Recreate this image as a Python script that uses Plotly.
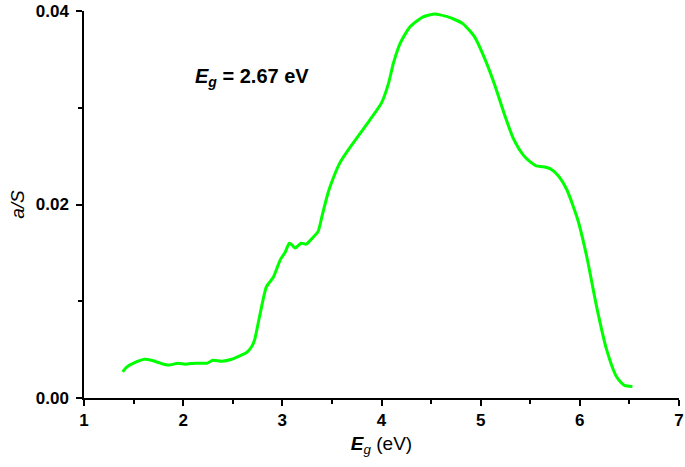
import plotly.graph_objects as go

energy_ev = [1.39, 1.43, 1.50, 1.61, 1.68, 1.77, 1.85, 1.95, 2.02, 2.12, 2.24, 2.30, 2.39, 2.49,
             2.56, 2.64, 2.69, 2.72, 2.77, 2.84, 2.91, 2.98, 3.03, 3.07, 3.10, 3.13, 3.19, 3.24,
             3.30, 3.36, 3.40, 3.45, 3.48, 3.58, 3.71, 3.88, 4.00, 4.07, 4.12, 4.19, 4.29, 4.42,
             4.54, 4.59, 4.67, 4.72, 4.82, 4.94, 5.04, 5.14, 5.24, 5.33, 5.43, 5.50, 5.56, 5.63,
             5.70, 5.78, 5.87, 5.98, 6.07, 6.17, 6.27, 6.37, 6.45, 6.53]
absorbance = [0.0027, 0.0032, 0.0036, 0.0040, 0.0039, 0.0036, 0.0034, 0.0036, 0.0035, 0.0036,
              0.0036, 0.0039, 0.0038, 0.0040, 0.0043, 0.0047, 0.0053, 0.0060, 0.0084, 0.0115,
              0.0125, 0.0143, 0.0151, 0.0160, 0.0158, 0.0155, 0.0160, 0.0159, 0.0165, 0.0172,
              0.0188, 0.0208, 0.0218, 0.0243, 0.0263, 0.0287, 0.0305, 0.0325, 0.0346, 0.0367,
              0.0384, 0.0394, 0.0397, 0.0396, 0.0394, 0.0392, 0.0387, 0.0373, 0.0351, 0.0324,
              0.0293, 0.0268, 0.0251, 0.0244, 0.0240, 0.0239, 0.0237, 0.0230, 0.0215, 0.0184,
              0.0146, 0.0094, 0.0050, 0.0022, 0.0013, 0.0012]

x_ticks = [1, 2, 3, 4, 5, 6, 7]
y_ticks = [0.00, 0.02, 0.04]
y_tick_labels = ["0.00", "0.02", "0.04"]

font_family = "Liberation Sans, Arial, sans-serif"

fig = go.Figure()
fig.add_trace(go.Scatter(x=energy_ev, y=absorbance, mode="lines",
                         line=dict(color="#00ff00", width=3, shape="spline", smoothing=0.6),
                         showlegend=False))

fig.add_annotation(x=2.10, y=0.0331, xref="x", yref="y", xanchor="left", yanchor="middle",
                   text="<b><i>E</i><sub><i>g</i></sub> = 2.67 eV</b>", showarrow=False,
                   font=dict(family=font_family, size=20, color="black"))

fig.update_layout(
    width=685, height=467,
    margin=dict(l=84, r=6, t=11, b=69),
    paper_bgcolor="white", plot_bgcolor="white",
    font=dict(family=font_family, color="black"),
)
fig.update_xaxes(
    range=[1, 7], tickvals=x_ticks, ticktext=[str(v) for v in x_ticks],
    automargin=False, ticklabeloverflow="allow",
    showline=True, linecolor="black", linewidth=1.5, mirror=False,
    ticks="outside", ticklen=6, tickwidth=1.5, tickcolor="black",
    minor=dict(dtick=0.5, ticks="outside", ticklen=4, tickwidth=1.5, tickcolor="black"),
    showgrid=False, zeroline=False,
    tickfont=dict(size=17, family=font_family, weight="bold"),
    title=dict(text="<b><i>E</i></b><sub><i>g</i></sub> (eV)", font=dict(size=19), standoff=8),
)
fig.update_yaxes(
    range=[0, 0.04], tickvals=y_ticks, ticktext=y_tick_labels,
    automargin=False, ticklabeloverflow="allow", ticklabelstandoff=4,
    showline=True, linecolor="black", linewidth=1.5, mirror=False,
    ticks="outside", ticklen=6, tickwidth=1.5, tickcolor="black",
    minor=dict(dtick=0.01, ticks="outside", ticklen=4, tickwidth=1.5, tickcolor="black"),
    showgrid=False, zeroline=False,
    tickfont=dict(size=17, family=font_family, weight="bold"),
    title=dict(text="<i>a/S</i>", font=dict(size=19), standoff=6),
)

# remove the browser's default 8px page margin so the figure fills the window exactly
fig.write_html("out.html", config={"displayModeBar": False},
               post_script="document.body.style.margin='0';")
